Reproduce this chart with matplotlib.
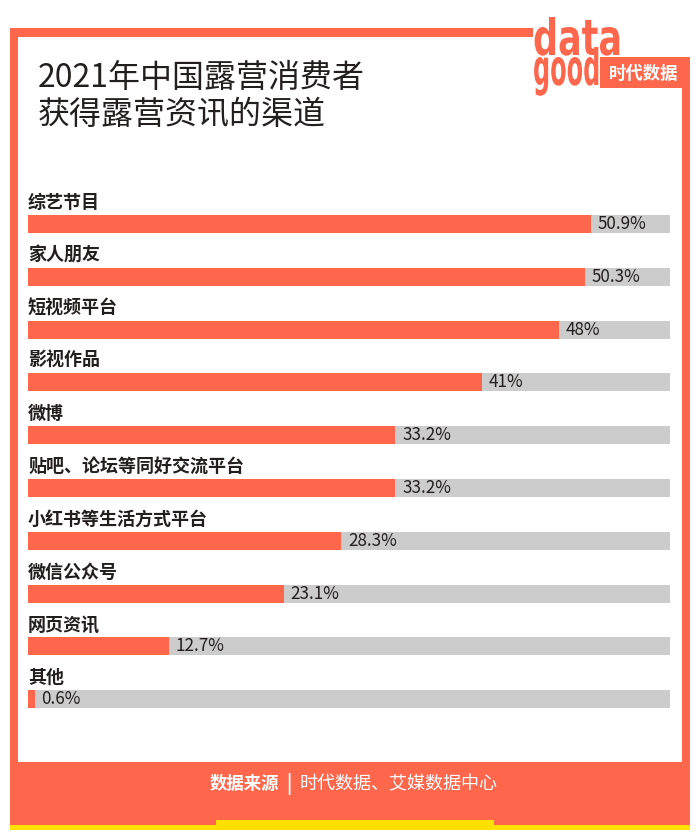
import matplotlib
matplotlib.use("Agg")
import matplotlib.pyplot as plt
from matplotlib.patches import Rectangle
from matplotlib.patheffects import AbstractPathEffect
from matplotlib.transforms import Affine2D, Bbox

plt.rcParams['font.family'] = ['Noto Sans CJK SC', 'DejaVu Sans']

categories = ["综艺节目", "家人朋友", "短视频平台", "影视作品", "微博",
              "贴吧、论坛等同好交流平台", "小红书等生活方式平台", "微信公众号",
              "网页资讯", "其他"]
values = [50.9, 50.3, 48, 41, 33.2, 33.2, 28.3, 23.1, 12.7, 0.6]
value_labels = ["50.9%", "50.3%", "48%", "41%", "33.2%", "33.2%", "28.3%",
                "23.1%", "12.7%", "0.6%"]
bar_max = 58
title_lines = ["2021年中国露营消费者", "获得露营资讯的渠道"]
source_bold = "数据来源"
source_text = "时代数据、艾媒数据中心"

CORAL = "#FF674D"
GRAY = "#CCCCCC"
YELLOW = "#FFE000"
DARK = "#231F1F"

W, H = 700, 840
fig = plt.figure(figsize=(W / 100, H / 100), dpi=100)
fig.patch.set_facecolor("white")


class Squash(AbstractPathEffect):
    """Compress text horizontally about a display x position."""
    def __init__(self, sx, x0):
        super().__init__()
        self.sx = sx
        self.x0 = x0

    def draw_path(self, renderer, gc, tpath, affine, rgbFace=None):
        t = affine + Affine2D().translate(-self.x0, 0).scale(self.sx, 1).translate(self.x0, 0)
        renderer.draw_path(gc, tpath, t, rgbFace)


def squashed_text(axis, x, y, s, sx, trim_descent=False, **kw):
    t = axis.text(x, y, s, path_effects=[Squash(sx, x)], **kw)
    orig = t.get_window_extent

    def gwe(renderer=None, dpi=None):
        bb = orig(renderer, dpi)
        y0 = bb.y0
        if trim_descent:
            y0 = max(bb.y0, H - y)
        return Bbox([[bb.x0, y0], [bb.x0 + (bb.x1 - bb.x0) * sx, bb.y1]])

    t.get_window_extent = gwe
    return t


bg = fig.add_axes([0, 0, 1, 1])
bg.set_xlim(0, W)
bg.set_ylim(H, 0)
bg.axis("off")

# yellow bottom strip
bg.add_patch(Rectangle((10, 824), 680, 6, color=YELLOW, lw=0))
# coral frame
bg.add_patch(Rectangle((10, 28), 680, 797, color=CORAL, lw=0))
bg.add_patch(Rectangle((216, 820), 278, 5, color=YELLOW, lw=0))
# clear top-right corner for logo
bg.add_patch(Rectangle((533, 0), 170, 57, color="white", lw=0))
# inner white panel
bg.add_patch(Rectangle((18, 37), 664, 725, color="white", lw=0))
# logo box
bg.add_patch(Rectangle((600, 57), 90, 31, color=CORAL, lw=0))
bg.add_patch(Rectangle((682, 57), 8, 710, color=CORAL, lw=0))

squashed_text(bg, 533, 55, "data", 0.70, trim_descent=True, color=CORAL,
              fontsize=36, fontweight="bold", family="DejaVu Sans",
              ha="left", va="baseline")
squashed_text(bg, 533, 85, "good", 0.48, color=CORAL,
              fontsize=36, fontweight="bold", family="DejaVu Sans",
              ha="left", va="baseline")
bg.text(644, 74, "时代数据", color="white", fontsize=12.5, fontweight="bold",
        ha="center", va="center")

# title
bg.text(38, 78, title_lines[0], color=DARK, fontsize=23, ha="left", va="center")
bg.text(38, 115, title_lines[1], color=DARK, fontsize=23, ha="left", va="center")

# footer
bg.text(279, 784, source_bold, color="white", fontsize=12.5,
        fontweight="bold", ha="right", va="center")
bg.text(289, 784, "|", color="white", fontsize=13, fontweight="bold",
        ha="center", va="center")
bg.text(300, 784, source_text, color="white", fontsize=13, ha="left", va="center")

# bars axes
x0, x1 = 28, 670
step = 52.8
yc0 = 224
top = yc0 - step / 2
bottom = yc0 + step * (len(categories) - 1) + step / 2
ax = fig.add_axes([x0 / W, 1 - bottom / H, (x1 - x0) / W, (bottom - top) / H])
ax.set_xlim(0, bar_max)
ax.set_ylim(len(categories) - 0.5, -0.5)
ax.axis("off")

idx = list(range(len(categories)))
bh = 18 / step
ax.barh(idx, [bar_max] * len(categories), height=bh, color=GRAY, lw=0)
ax.barh(idx, values, height=bh, color=CORAL, lw=0)
for i, (c, v, lab) in enumerate(zip(categories, values, value_labels)):
    ax.text(0, i - 0.41, c, color=DARK, fontsize=13, fontweight="bold",
            ha="left", va="center")
    ax.text(v + 0.6, i, lab, color=DARK, fontsize=12.3, ha="left", va="center")

fig.savefig("out.png", dpi=100, facecolor="white")
